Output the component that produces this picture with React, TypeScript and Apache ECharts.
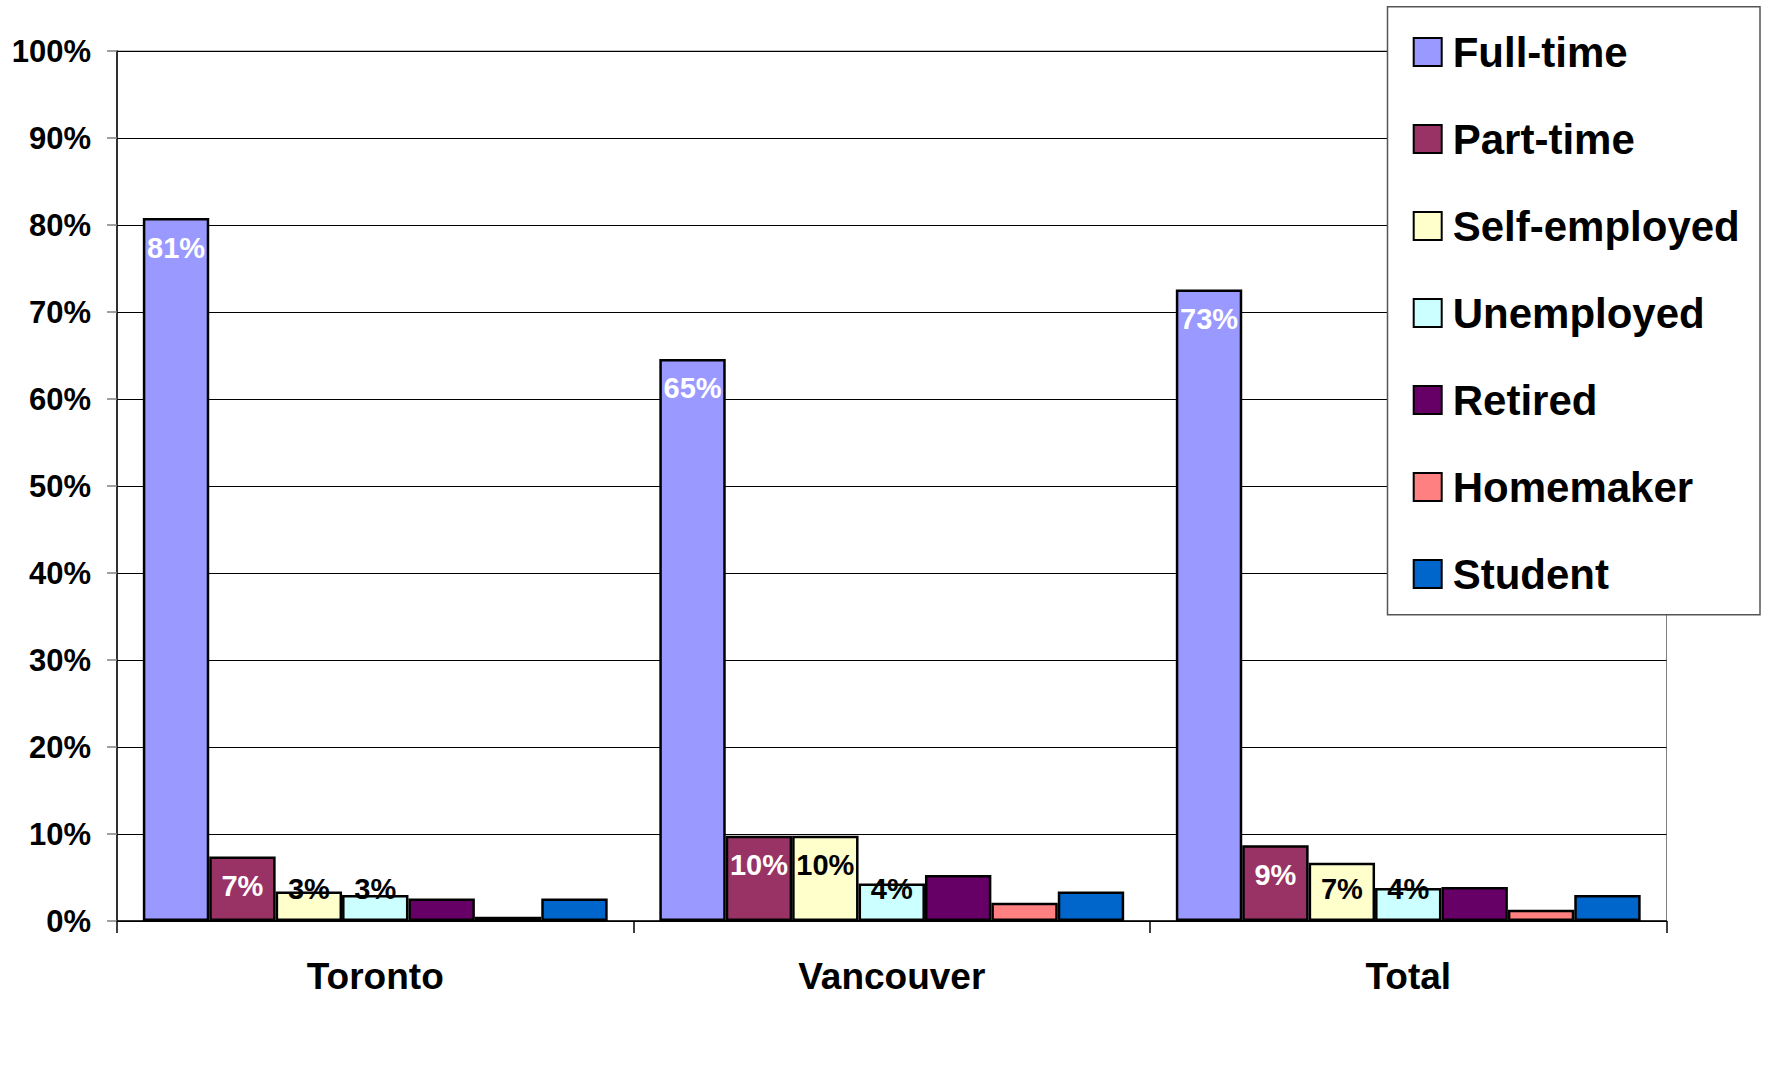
import React, { useEffect, useRef } from "react";
import * as echarts from "echarts";

const categories = ["Toronto", "Vancouver", "Total"];
const seriesNames = ["Full-time", "Part-time", "Self-employed", "Unemployed", "Retired", "Homemaker", "Student"];
const fullTime = [80.8, 64.6, 72.6];
const partTime = [7.4, 9.8, 8.7];
const selfEmployed = [3.4, 9.8, 6.7];
const unemployed = [3.0, 4.3, 3.8];
const retired = [2.6, 5.3, 3.9];
const homemaker = [0.5, 2.1, 1.3];
const student = [2.6, 3.4, 3.0];
const yTicks = [0, 10, 20, 30, 40, 50, 60, 70, 80, 90, 100];

const seriesValues = [fullTime, partTime, selfEmployed, unemployed, retired, homemaker, student];
const colors = ["#9999FF", "#993366", "#FFFFCC", "#CCFFFF", "#660066", "#FF8080", "#0066CC"];
const labelColors: (string | null)[] = ["#FFFFFF", "#FFFFFF", "#000000", "#000000", null, null, null];

const FONT = "'Liberation Sans', Arial, sans-serif";

export default function App() {
  const ref = useRef<HTMLDivElement>(null);
  useEffect(() => {
    if (!ref.current) return;
    const chart = echarts.init(ref.current, undefined, { renderer: "svg" });
    const series = seriesNames.map((name, i) => {
      const lc = labelColors[i];
      return {
        name,
        type: "bar",
        barGap: "0%",
        barCategoryGap: "10%",
        itemStyle: { color: colors[i], borderColor: "#000000", borderWidth: 2.5 },
        z: 2,
        data: seriesValues[i].map((v) => {
          const item: any = { value: v };
          if (lc) {
            const tall = v >= 7;
            item.label = {
              show: true,
              position: tall ? "insideTop" : "insideBottom",
              distance: tall ? 15 : 18,
              color: lc,
              fontFamily: FONT,
              fontWeight: "bold",
              fontSize: 29,
              formatter: (p: any) => Math.round(p.value) + "%",
            };
          } else {
            item.label = { show: false };
          }
          return item;
        }),
      };
    });
    chart.setOption({
      animation: false,
      backgroundColor: "#ffffff",
      textStyle: { fontFamily: FONT },
      grid: {
        left: 117,
        right: 102.5,
        top: 51,
        bottom: 160,
        show: true,
        borderColor: "#808080",
        borderWidth: 1,
        backgroundColor: "transparent",
      },
      xAxis: {
        type: "category",
        data: categories,
        axisLine: { lineStyle: { color: "#000000", width: 1.5 } },
        axisTick: { show: true, length: 12, lineStyle: { color: "#000000", width: 1.5 } },
        axisLabel: {
          color: "#000000",
          fontFamily: FONT,
          fontWeight: "bold",
          fontSize: 37,
          margin: 37,
        },
      },
      yAxis: {
        type: "value",
        min: yTicks[0],
        max: yTicks[yTicks.length - 1],
        interval: 10,
        axisLine: { show: true, lineStyle: { color: "#000000", width: 1.5 } },
        axisTick: { show: true, length: 10, lineStyle: { color: "#808080", width: 1.5 } },
        splitLine: { show: true, lineStyle: { color: "#000000", width: 1 } },
        axisLabel: {
          color: "#000000",
          fontFamily: FONT,
          fontWeight: "bold",
          fontSize: 31,
          margin: 26,
          formatter: "{value}%",
        },
      },
      graphic: [
        {
          type: "rect",
          z: 10,
          shape: { x: 1387.5, y: 6.8, width: 372.5, height: 608 },
          style: { fill: "#ffffff", stroke: "#555555", lineWidth: 1.5 },
        },
      ],
      legend: {
        show: true,
        orient: "vertical",
        left: 1412.7,
        top: 31,
        padding: 0,
        z: 20,
        icon: "rect",
        itemWidth: 28,
        itemHeight: 28,
        itemGap: 45,
        selectedMode: false,
        data: seriesNames,
        textStyle: {
          color: "#000000",
          fontFamily: FONT,
          fontWeight: "bold",
          fontSize: 42,
          padding: [0, 0, 0, 6],
        },
      },
      series,
    });
    return () => chart.dispose();
  }, []);
  return (
    <div
      ref={ref}
      style={{ position: "fixed", left: 0, top: 0, width: 1769, height: 1081, background: "#ffffff" }}
    />
  );
}
